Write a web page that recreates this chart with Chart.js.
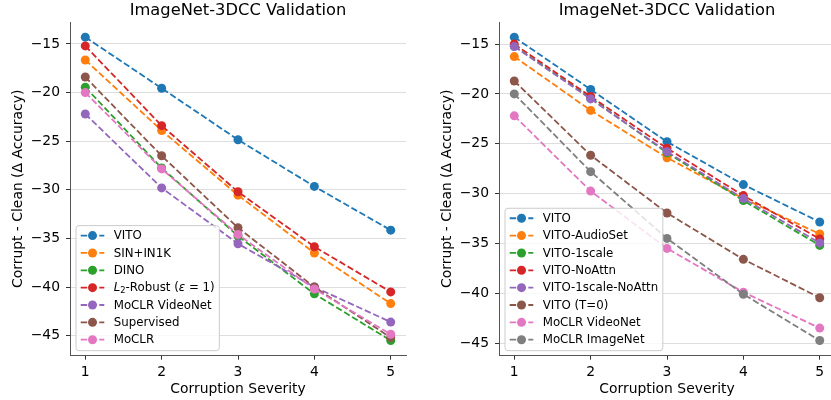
<!DOCTYPE html>
<html>
<head>
<meta charset="utf-8">
<script src="https://cdn.jsdelivr.net/npm/chart.js@4.4.1/dist/chart.umd.min.js"></script>
<style>
  html, body { margin: 0; padding: 0; background: #fff; }
  body { width: 831px; height: 400px; overflow: hidden; position: relative; }
  canvas { position: absolute; top: 0; }
  #leftChart { left: 0; }
  #rightChart { left: 415px; }
</style>
</head>
<body>
<canvas id="leftChart" width="415" height="400"></canvas>
<canvas id="rightChart" width="425" height="400"></canvas>
<script>
// ===================================
// DADOS
// ===================================
const severities = [1, 2, 3, 4, 5];

const titleText = 'ImageNet-3DCC Validation';
const xLabel = 'Corruption Severity';
const yLabel = 'Corrupt - Clean (\u0394 Accuracy)';

// painel esquerdo
const leftNames = ['VITO', 'SIN+IN1K', 'DINO', 'L2-Robust', 'MoCLR VideoNet', 'Supervised', 'MoCLR'];
const leftVito       = [-14.3, -19.55, -24.85, -29.65, -34.15];
const leftSin        = [-16.65, -23.9, -30.55, -36.5, -41.7];
const leftDino       = [-19.45, -27.75, -34.75, -40.7, -45.5];
const leftRobust     = [-15.2, -23.4, -30.2, -35.85, -40.5];
const leftMoclrVideo = [-22.2, -29.8, -35.55, -40.0, -43.6];
const leftSupervised = [-18.4, -26.5, -33.9, -40.0, -45.2];
const leftMoclr      = [-20.0, -27.85, -34.6, -40.2, -44.85];

// painel direito
const rightNames = ['VITO', 'VITO-AudioSet', 'VITO-1scale', 'VITO-NoAttn', 'VITO-1scale-NoAttn', 'VITO (T=0)', 'MoCLR VideoNet', 'MoCLR ImageNet'];
const rightVito        = [-14.3, -19.55, -24.8, -29.1, -32.85];
const rightAudioSet    = [-16.25, -21.65, -26.4, -30.5, -34.05];
const rightOneScale    = [-15.2, -20.4, -25.9, -30.7, -35.2];
const rightNoAttn      = [-15.0, -20.25, -25.45, -30.2, -34.55];
const rightOneNoAttn   = [-15.25, -20.5, -25.8, -30.5, -34.95];
const rightT0          = [-18.7, -26.15, -31.95, -36.6, -40.45];
const rightMoclrVideo  = [-22.2, -29.75, -35.5, -39.9, -43.5];
const rightMoclrImage  = [-20.0, -27.8, -34.5, -40.1, -44.75];

const yTicks = [-15, -20, -25, -30, -35, -40, -45];

// ===================================
// ESTILO
// ===================================
const C = {
    blue: '#1f77b4', orange: '#ff7f0e', green: '#2ca02c', red: '#d62728',
    purple: '#9467bd', brown: '#8c564b', pink: '#e377c2', gray: '#7f7f7f'
};
const FONT = "'DejaVu Sans', sans-serif";
const DASH = [6.5, 2.8];
const TICK_SIZE = 13.9;
const LABEL_SIZE = 13.9;
const TITLE_SIZE = 16.3;
const LEGEND_SIZE = 11.8;

// rótulos com mathtext (L_2, epsilon)
const richLabels = {
    'L2-Robust': [
        { t: 'L', italic: true },
        { t: '2', sub: true },
        { t: '-Robust (' },
        { t: '\u03b5', italic: true },
        { t: ' = 1)' }
    ]
};

function labelParts(name) {
    return richLabels[name] || [{ t: name }];
}

function partFont(p) {
    const size = p.sub ? 8.3 : LEGEND_SIZE;
    return (p.italic ? 'oblique ' : '') + size + 'px ' + FONT;
}

function measureLabel(ctx, name) {
    let w = 0;
    labelParts(name).forEach(p => { ctx.font = partFont(p); w += ctx.measureText(p.t).width; });
    return w;
}

function drawLabel(ctx, name, x, y) {
    labelParts(name).forEach(p => {
        ctx.font = partFont(p);
        ctx.fillText(p.t, x, p.sub ? y + 3 : y);
        x += ctx.measureText(p.t).width;
    });
}

// título, rótulos dos eixos e legenda
const decorPlugin = {
    id: 'decor',
    afterDraw(chart) {
        const ctx = chart.ctx;
        const area = chart.chartArea;
        const cx = (area.left + area.right) / 2;
        ctx.save();
        ctx.fillStyle = '#000';

        ctx.font = TITLE_SIZE + 'px ' + FONT;
        ctx.textAlign = 'center';
        ctx.textBaseline = 'alphabetic';
        ctx.fillText(titleText, cx, 15);

        ctx.font = LABEL_SIZE + 'px ' + FONT;
        ctx.fillText(xLabel, cx, 392.5);

        ctx.save();
        ctx.translate(area.left - 48, (area.top + area.bottom) / 2);
        ctx.rotate(-Math.PI / 2);
        ctx.fillText(yLabel, 0, 0);
        ctx.restore();

        // legenda (canto inferior esquerdo)
        const sets = chart.data.datasets;
        let textW = 0;
        sets.forEach(ds => { textW = Math.max(textW, measureLabel(ctx, ds.label)); });
        const rowH = 17.35;
        const boxW = 42.4 + textW;
        const boxH = (sets.length - 1) * rowH + 21;
        const bx = area.left + 6;
        const by = area.bottom - 5 - boxH;

        ctx.beginPath();
        ctx.roundRect(bx, by, boxW, boxH, 3);
        ctx.fillStyle = 'rgba(255,255,255,0.8)';
        ctx.fill();
        ctx.strokeStyle = '#cccccc';
        ctx.lineWidth = 1;
        ctx.stroke();

        ctx.textAlign = 'left';
        ctx.textBaseline = 'middle';
        sets.forEach((ds, i) => {
            const ry = by + 10 + i * rowH;
            const hx = bx + 4.7;
            ctx.strokeStyle = ds.borderColor;
            ctx.lineWidth = 1.8;
            ctx.setLineDash(DASH);
            ctx.beginPath();
            ctx.moveTo(hx, ry);
            ctx.lineTo(hx + 23.6, ry);
            ctx.stroke();
            ctx.setLineDash([]);
            ctx.fillStyle = ds.borderColor;
            ctx.beginPath();
            ctx.arc(hx + 11.8, ry, 4.5, 0, Math.PI * 2);
            ctx.fill();
            ctx.fillStyle = '#000';
            drawLabel(ctx, ds.label, hx + 33, ry + 0.5);
        });
        ctx.restore();
    }
};

function buildDatasets(names, series, colors) {
    return names.map((name, i) => ({
        label: name,
        data: severities.map((s, j) => ({ x: s, y: series[i][j] })),
        borderColor: colors[i],
        backgroundColor: colors[i],
        borderWidth: 1.8,
        borderDash: DASH,
        pointRadius: 4.5,
        pointBorderWidth: 0,
        pointBackgroundColor: colors[i],
        tension: 0,
        order: names.length - i
    }));
}

function makeChart(id, datasets, yMin, yMax, axisWidth, padRight) {
    const ctx = document.getElementById(id).getContext('2d');
    const config = {
        type: 'line',
        data: { datasets: datasets },
        options: {
            responsive: false,
            animation: false,
            events: [],
            layout: { padding: { top: 22, right: padRight, left: 0, bottom: 0 } },
            plugins: { legend: { display: false }, tooltip: { enabled: false } },
            scales: {
                x: {
                    type: 'linear',
                    min: 0.8,
                    max: 5.2,
                    afterFit: function(scale) { scale.height = 44.3; },
                    grid: { drawOnChartArea: false, tickLength: 4, tickColor: '#333', tickWidth: 1 },
                    border: { color: '#555', width: 1 },
                    ticks: {
                        stepSize: 1,
                        includeBounds: false,
                        padding: 4,
                        color: '#000',
                        font: { family: FONT, size: TICK_SIZE },
                        maxRotation: 0
                    }
                },
                y: {
                    min: yMin,
                    max: yMax,
                    afterFit: function(scale) { scale.width = axisWidth; },
                    afterBuildTicks: function(scale) {
                        scale.ticks = yTicks.map(v => ({ value: v }));
                    },
                    grid: { color: '#dedede', lineWidth: 1, tickLength: 4, tickColor: '#333', tickWidth: 1 },
                    border: { color: '#555', width: 1 },
                    ticks: {
                        padding: 6,
                        color: '#000',
                        font: { family: FONT, size: TICK_SIZE },
                        callback: function(value) {
                            return (value < 0 ? '\u2212' : '') + Math.abs(value);
                        }
                    }
                }
            }
        },
        plugins: [decorPlugin]
    };
    return new Chart(ctx, config);
}

document.addEventListener('DOMContentLoaded', function() {
    makeChart('leftChart',
        buildDatasets(leftNames,
            [leftVito, leftSin, leftDino, leftRobust, leftMoclrVideo, leftSupervised, leftMoclr],
            [C.blue, C.orange, C.green, C.red, C.purple, C.brown, C.pink]),
        -47.06, -12.74, 70, 9);

    makeChart('rightChart',
        buildDatasets(rightNames,
            [rightVito, rightAudioSet, rightOneScale, rightNoAttn, rightOneNoAttn, rightT0, rightMoclrVideo, rightMoclrImage],
            [C.blue, C.orange, C.green, C.red, C.purple, C.brown, C.pink, C.gray]),
        -46.27, -12.78, 84, 5);
});
</script>
</body>
</html>
